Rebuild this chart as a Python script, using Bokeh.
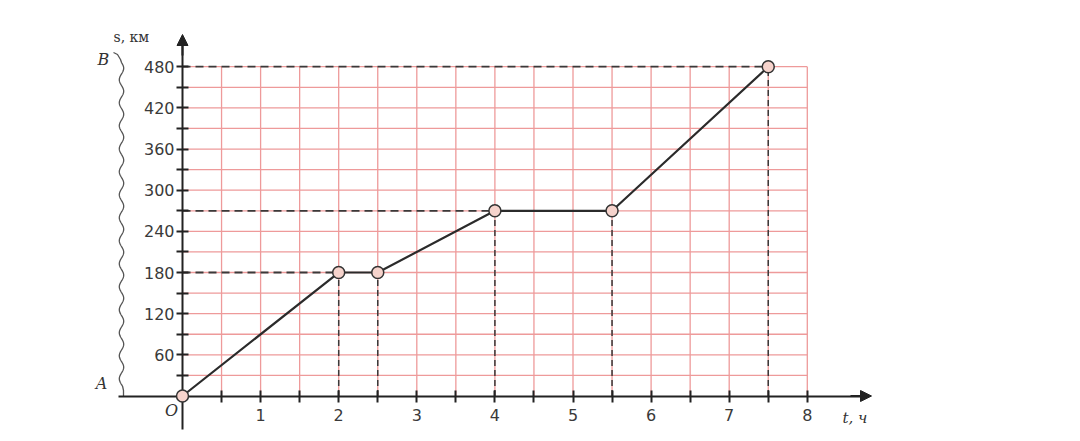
import numpy as np
from bokeh.plotting import figure
from bokeh.models import LinearAxis, FixedTicker, Range1d, Label, Arrow, NormalHead
from bokeh.embed import file_html
from bokeh.resources import INLINE

# ---------------- data ----------------
t_hours = [0, 2, 2.5, 4, 5.5, 7.5]          # time, h
s_km = [0, 180, 180, 270, 270, 480]         # distance, km
x_ticks = [1, 2, 3, 4, 5, 6, 7, 8]
x_minor = [0.5, 1.5, 2.5, 3.5, 4.5, 5.5, 6.5, 7.5]
y_ticks = [60, 120, 180, 240, 300, 360, 420, 480]
y_minor = [30, 90, 150, 210, 270, 330, 390, 450]
x_label = "t, ч"
y_label = "s, км"

# ---------------- layout ----------------
W, H = 1064, 433
OX, OY = 182.0, 395.5      # origin position in figure pixels
KX, KY = 78.1, 0.686       # pixels per hour / per km


def px(page_x):
    return (page_x - OX) / KX


def py(page_y):
    return (OY - page_y) / KY


p = figure(width=W, height=H, output_backend="svg", toolbar_location=None,
           x_range=Range1d(-OX / KX, (W - OX) / KX),
           y_range=Range1d(-(H - OY) / KY, OY / KY),
           x_axis_type=None, y_axis_type=None, min_border=0,
           outline_line_color=None, background_fill_color="white")
p.grid.visible = False

# pink grid
grid_col = "#ee9a9a"
x_max = max(x_ticks)
y_max = max(y_ticks)
gx = x_minor + x_ticks
gy = y_minor + y_ticks
p.segment(x0=gx, y0=[0] * len(gx), x1=gx, y1=[y_max] * len(gx),
          line_color=grid_col, line_width=1.3)
p.segment(x0=[0] * len(gy), y0=gy, x1=[x_max] * len(gy), y1=gy,
          line_color=grid_col, line_width=1.3)

# dashed guides
vx = [t for t, s in zip(t_hours, s_km) if s > 0]
vy = [s for t, s in zip(t_hours, s_km) if s > 0]
p.segment(x0=vx, y0=[0] * len(vx), x1=vx, y1=vy,
          line_color="#3a3a3a", line_width=1.5, line_dash="6 4")
hx, hy = [], []
for i, (t, s) in enumerate(zip(t_hours, s_km)):
    if s > 0 and (i == 0 or s != s_km[i - 1]):
        hx.append(t)
        hy.append(s)
p.segment(x0=[0] * len(hx), y0=hy, x1=hx, y1=hy,
          line_color="#3a3a3a", line_width=1.8, line_dash="8 5")

# axes
ax_col = "#222222"
common = dict(axis_line_color=ax_col, axis_line_width=2,
              major_tick_line_color=ax_col, major_tick_line_width=2,
              minor_tick_line_color=ax_col, minor_tick_line_width=2,
              major_tick_in=6, major_tick_out=6, minor_tick_in=6, minor_tick_out=6,
              major_label_text_font="DejaVu Sans", major_label_text_font_size="16px",
              major_label_text_color="#3a3a3a")
xaxis = LinearAxis(fixed_location=0, bounds=(px(118), px(862)),
                   ticker=FixedTicker(ticks=x_ticks, minor_ticks=x_minor),
                   major_label_standoff=7, **common)
yaxis = LinearAxis(fixed_location=0, bounds=(py(429), py(44)),
                   ticker=FixedTicker(ticks=y_ticks, minor_ticks=y_minor),
                   major_label_standoff=2, **common)
p.add_layout(xaxis, "below")
p.add_layout(yaxis, "left")

p.add_layout(Arrow(end=NormalHead(size=11, fill_color=ax_col, line_color=ax_col),
                   x_start=px(850), y_start=0, x_end=px(871), y_end=0,
                   line_color=ax_col, line_width=2))
p.add_layout(Arrow(end=NormalHead(size=11, fill_color=ax_col, line_color=ax_col),
                   x_start=0, y_start=py(55), x_end=0, y_end=py(34),
                   line_color=ax_col, line_width=2))

# wavy brace from A to B
by = np.linspace(62, 386, 400)
bx = 121 + 2.2 * np.sin(2 * np.pi * (by - 62) / 23.0)
brace_x = [px(113), px(117), px(120)] + [px(v) for v in bx] + [px(123), px(123)]
brace_y = [py(52), py(54), py(59)] + [py(v) for v in by] + [py(390), py(395.5)]
p.line(brace_x, brace_y, line_color="#555555", line_width=1.3)

# main graph
p.line(t_hours, s_km, line_color="#2b2b2b", line_width=2.2)
p.scatter(t_hours, s_km, marker="circle", size=12, fill_color="#f6d3cc",
          line_color="#333333", line_width=1.5, level="overlay")

# texts
serif = "DejaVu Serif"
p.add_layout(Label(x=px(113), y=py(36), text=y_label, text_font=serif,
                   text_font_size="14px", text_color="#333333",
                   text_align="left", text_baseline="middle"))
p.add_layout(Label(x=px(842), y=py(417), text=x_label, text_font=serif,
                   text_font_size="15px", text_font_style="italic", text_color="#333333",
                   text_align="left", text_baseline="middle"))
p.add_layout(Label(x=px(103), y=py(59), text="B", text_font=serif,
                   text_font_size="16px", text_font_style="italic", text_color="#333333",
                   text_align="center", text_baseline="middle"))
p.add_layout(Label(x=px(101), y=py(383), text="A", text_font=serif,
                   text_font_size="16px", text_font_style="italic", text_color="#333333",
                   text_align="center", text_baseline="middle"))
p.add_layout(Label(x=px(171), y=py(410), text="O", text_font=serif,
                   text_font_size="16px", text_font_style="italic", text_color="#333333",
                   text_align="center", text_baseline="middle"))

open("out.html", "w").write(file_html(p, INLINE))
